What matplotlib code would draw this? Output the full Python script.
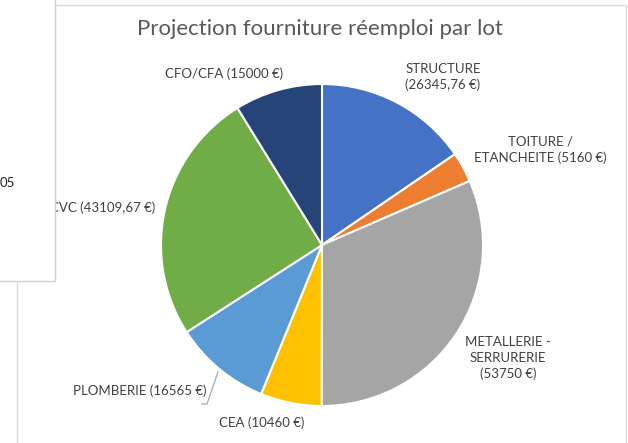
import matplotlib
matplotlib.use("Agg")
import matplotlib.pyplot as plt
from matplotlib.patches import Rectangle

categories = ["STRUCTURE", "TOITURE /\nETANCHEITE", "METALLERIE -\nSERRURERIE", "CEA",
              "PLOMBERIE", "CVC", "CFO/CFA"]
values = [26345.76, 5160, 53750, 10460, 16565, 43109.67, 15000]
value_text = ["26345,76 €", "5160 €", "53750 €", "10460 €", "16565 €", "43109,67 €", "15000 €"]
colors = ["#4472C4", "#ED7D31", "#A5A5A5", "#FFC000", "#5B9BD5", "#70AD47", "#264478"]
title = "Projection fourniture réemploi par lot"

W, H = 628, 443
FONT = ["Lato", "DejaVu Sans"]

fig = plt.figure(figsize=(W / 100, H / 100), dpi=100)
ax = fig.add_axes([0, 0, 1, 1])

def Y(py):
    return H - py

# chart frame
ax.add_patch(Rectangle((17, Y(460)), 609, 455, fill=False, edgecolor="#D9D9D9", lw=1, zorder=1))

cx, cy, r = 322, Y(245), 161
wedges, _ = ax.pie(values, colors=colors, startangle=90, counterclock=False,
                   center=(cx, cy), radius=r, frame=True,
                   wedgeprops=dict(edgecolor="white", linewidth=1.5))
ax.set_xlim(0, W)
ax.set_ylim(0, H)
ax.set_aspect("equal")
ax.axis("off")

# label layout (pixel positions of label centres)
label_pos = [(443, 77), (540, 150), (508, 358), (262, 423), (140, 391), (103, 208), (224, 74)]
label_fmt = [
    "STRUCTURE\n({})",
    "TOITURE /\nETANCHEITE ({})",
    "METALLERIE -\nSERRURERIE\n({})",
    "CEA ({})",
    "PLOMBERIE ({})",
    "CVC ({})",
    "CFO/CFA ({})",
]
for (px, py), fmt, vt in zip(label_pos, label_fmt, value_text):
    ax.text(px, Y(py), fmt.format(vt), ha="center", va="center", fontsize=9.5,
            color="#404040", family=FONT, linespacing=1.35, zorder=3)

# leader line for PLOMBERIE
ax.plot([218, 207, 202], [Y(372), Y(404), Y(404)], color="#A6A6A6", lw=0.9, zorder=3)

ax.text(320, Y(29), title, ha="center", va="center", fontsize=16, color="#595959",
        family=FONT, zorder=3)

# overlapping window on the left
ax.add_patch(Rectangle((-5, Y(281)), 60, 290, facecolor="white", edgecolor="#D0D0D0", lw=1, zorder=5))
ax.text(0, Y(183), "05", ha="left", va="center", fontsize=9.5, color="#222222", family=FONT, zorder=6)

fig.savefig("out.png", dpi=100)
